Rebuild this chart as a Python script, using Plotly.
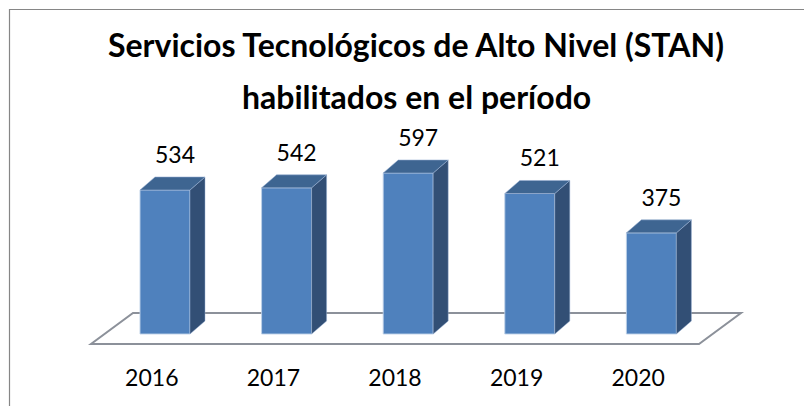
import plotly.graph_objects as go

# ---- data ----
categories = ["2016", "2017", "2018", "2019", "2020"]
values = [534, 542, 597, 521, 375]
title_line1 = "Servicios Tecnológicos de Alto Nivel (STAN)"
title_line2 = "habilitados en el período"

# ---- layout geometry (reference pixels) ----
OFF = 8                                 # page body margin offset
W, H = 812 - OFF, 406 - OFF
L, R, T, B = 60, 770, 90, 360           # plot area in reference px
CAT_PX = 121.6                          # px per category
X_LEFT_PX = 91                          # px of floor front-left (x = -0.5)
KY = 0.2697                             # px per value unit
Y0_PX = 334                             # px of value 0

def px_x(dpx):
    return dpx / CAT_PX

def px_y(dpx):
    return dpx / KY

x_range = [-0.5 + (L - X_LEFT_PX) / CAT_PX, -0.5 + (R - X_LEFT_PX) / CAT_PX]
y_range = [(Y0_PX - B) / KY, (Y0_PX - T) / KY]

bar_shift = px_x(13.2)
bar_w = px_x(50)
ddx, ddy = px_x(15), px_y(13)          # bar depth offset
fdx, fdy = px_x(42), px_y(31)          # floor depth offset
floor_y = -px_y(10)

FRONT = "#4F81BD"
TOP = "#3E6591"
SIDE = "#324F75"
EDGE = "rgba(190,208,232,0.9)"

fig = go.Figure()
n = len(categories)

# side and top faces
sx, sy = [], []
tx, ty = [], []
for i, v in enumerate(values):
    xl = i + bar_shift - bar_w / 2
    xr = i + bar_shift + bar_w / 2
    sx += [xr, xr, xr + ddx, xr + ddx, xr, None]
    sy += [0, v, v + ddy, ddy, 0, None]
    tx += [xl, xl + ddx, xr + ddx, xr, xl, None]
    ty += [v, v + ddy, v + ddy, v, v, None]

# front faces
fig.add_trace(go.Bar(x=[i + bar_shift for i in range(n)], y=values, base=0,
                     width=bar_w, marker=dict(color=FRONT, line=dict(color=EDGE, width=1)),
                     showlegend=False, hoverinfo="skip"))

fig.add_trace(go.Scatter(x=sx, y=sy, mode="lines", fill="toself", fillcolor=SIDE,
                         line=dict(color="rgba(150,175,210,0.6)", width=0.8),
                         hoverinfo="skip", showlegend=False))
fig.add_trace(go.Scatter(x=tx, y=ty, mode="lines", fill="toself", fillcolor=TOP,
                         line=dict(color="rgba(150,175,210,0.7)", width=0.8),
                         hoverinfo="skip", showlegend=False))

# data labels
fig.add_trace(go.Scatter(x=[i + bar_shift + px_x(10) for i in range(n)],
                         y=[v + px_y(33) for v in values],
                         mode="text", text=[str(v) for v in values],
                         textfont=dict(family="Lato", size=23, color="#000000"),
                         textposition="middle center",
                         hoverinfo="skip", showlegend=False))

# floor (drawn beneath the bars)
fx = [-0.5, n - 0.5, n - 0.5 + fdx, -0.5 + fdx]
fy = [floor_y, floor_y, floor_y + fdy, floor_y + fdy]
floor_path = "M " + " L ".join(f"{a},{b}" for a, b in zip(fx, fy)) + " Z"

pw, ph = R - L, B - T

def paper_x(p):
    return (p - L) / pw

def paper_y(p):
    return (B - p) / ph

fig.update_layout(
    width=W, height=H,
    margin=dict(l=L - OFF, r=812 - R, t=T - OFF, b=406 - B, pad=0),
    paper_bgcolor="white", plot_bgcolor="rgba(0,0,0,0)",
    barmode="overlay",
    xaxis=dict(range=x_range, showgrid=False, zeroline=False, showline=False,
               tickvals=list(range(n)), ticktext=categories, ticks="",
               tickfont=dict(family="Lato", size=23, color="#000000"),
               ticklabelstandoff=2, fixedrange=True),
    yaxis=dict(range=y_range, visible=False, fixedrange=True),
    shapes=[
        dict(type="rect", xref="paper", yref="paper",
             x0=paper_x(9.5), x1=paper_x(830), y0=paper_y(430), y1=paper_y(9.5),
             line=dict(color="#868686", width=1.2), fillcolor="rgba(0,0,0,0)", layer="below"),
        dict(type="path", xref="x", yref="y", path=floor_path,
             line=dict(color="#8C919A", width=2), fillcolor="white", layer="below"),
    ],
    annotations=[
        dict(text="<b>" + title_line1 + "</b>", xref="paper", yref="paper",
             x=paper_x(416), y=paper_y(45), xanchor="center", yanchor="middle",
             showarrow=False, font=dict(family="Lato", size=32, color="#000000")),
        dict(text="<b>" + title_line2 + "</b>", xref="paper", yref="paper",
             x=paper_x(416), y=paper_y(96), xanchor="center", yanchor="middle",
             showarrow=False, font=dict(family="Lato", size=32, color="#000000")),
    ],
)

fig.write_html("out.html")
